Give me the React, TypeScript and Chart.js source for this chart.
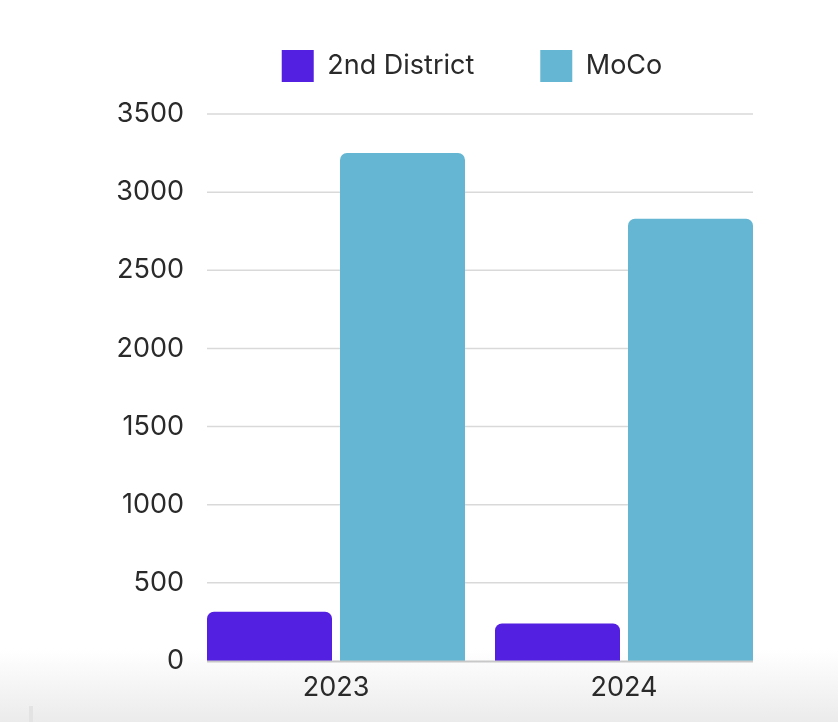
import React, { useEffect, useRef } from "react";
import { Chart, registerables } from "chart.js";

Chart.register(...registerables);

const categories = ["2023", "2024"];
const seriesNames = ["2nd District", "MoCo"];
const district2Values = [315, 240];
const mocoValues = [3250, 2830];
const yTickMin = 0;
const yTickMax = 3500;
const yTickStep = 500;

const PURPLE = "#531fe0";
const BLUE = "#65b6d3";
const FONT = "Inter, 'Noto Sans', sans-serif";

const legendTweak = {
  id: "legendTweak",
  beforeLayout(chart: any) {
    const legend = chart.legend;
    if (!legend || legend.__tweaked) return;
    legend.__tweaked = true;
    const origFit = legend.fit;
    legend.fit = function () {
      origFit.call(this);
      this.height = 106;
    };
    const origDraw = legend.draw;
    legend.draw = function (...args: any[]) {
      const ctx = this.ctx;
      ctx.save();
      ctx.translate(-8, -24);
      origDraw.apply(this, args);
      ctx.restore();
    };
  },
};

const insetGrid = {
  id: "insetGrid",
  beforeDatasetsDraw(chart: any) {
    const y = chart.scales.y;
    const first = chart.getDatasetMeta(0).data[0];
    const lastMeta = chart.getDatasetMeta(chart.data.datasets.length - 1);
    const last = lastMeta.data[lastMeta.data.length - 1];
    if (!first || !last) return;
    const left = first.x - first.width / 2;
    const right = last.x + last.width / 2;
    const ctx = chart.ctx;
    ctx.save();
    ctx.lineWidth = 1.5;
    y.ticks.forEach((t: any) => {
      if (t.value === 0) return;
      const py = y.getPixelForValue(t.value);
      ctx.strokeStyle = "#d9d9d9";
      ctx.beginPath();
      ctx.moveTo(left, py);
      ctx.lineTo(right, py);
      ctx.stroke();
    });
    ctx.restore();
  },
  afterDatasetsDraw(chart: any) {
    const y = chart.scales.y;
    const first = chart.getDatasetMeta(0).data[0];
    const lastMeta = chart.getDatasetMeta(chart.data.datasets.length - 1);
    const last = lastMeta.data[lastMeta.data.length - 1];
    if (!first || !last) return;
    const left = first.x - first.width / 2;
    const right = last.x + last.width / 2;
    const ctx = chart.ctx;
    const py = y.getPixelForValue(0);
    ctx.save();
    ctx.lineWidth = 2;
    ctx.strokeStyle = "#c8c8c8";
    ctx.beginPath();
    ctx.moveTo(left, py + 0.5);
    ctx.lineTo(right, py + 0.5);
    ctx.stroke();
    ctx.restore();
  },
};

export default function App() {
  const canvasRef = useRef<HTMLCanvasElement | null>(null);

  useEffect(() => {
    if (!canvasRef.current) return;
    const chart = new Chart(canvasRef.current, {
      type: "bar",
      data: {
        labels: categories,
        datasets: [
          {
            label: seriesNames[0],
            data: district2Values,
            backgroundColor: PURPLE,
            borderRadius: { topLeft: 7, topRight: 7, bottomLeft: 0, bottomRight: 0 },
            borderSkipped: false,
            categoryPercentage: 0.9236,
            barPercentage: 0.9398,
          },
          {
            label: seriesNames[1],
            data: mocoValues,
            backgroundColor: BLUE,
            borderRadius: { topLeft: 7, topRight: 7, bottomLeft: 0, bottomRight: 0 },
            borderSkipped: false,
            categoryPercentage: 0.9236,
            barPercentage: 0.9398,
          },
        ],
      },
      options: {
        responsive: false,
        animation: false,
        layout: { padding: { left: 0, right: 62, top: 0, bottom: 0 } },
        plugins: {
          legend: {
            position: "top",
            fullSize: false,
            labels: {
              boxWidth: 32,
              boxHeight: 32,
              padding: 66,
              color: "#2a2a2a",
              font: { family: FONT, size: 27 },
            },
          },
          tooltip: { enabled: false },
        },
        scales: {
          x: {
            grid: { display: false, drawTicks: false },
            border: { display: false },
            ticks: {
              color: "#2a2a2a",
              font: { family: FONT, size: 27 },
              padding: 11,
            },
            afterFit(scale: any) {
              scale.height = 61;
            },
          },
          y: {
            min: yTickMin,
            max: yTickMax,
            grid: { display: false, drawTicks: false },
            border: { display: false },
            ticks: {
              stepSize: yTickStep,
              color: "#2a2a2a",
              font: { family: FONT, size: 27 },
              padding: 8,
              callback: (v: any) => String(v),
            },
            afterFit(scale: any) {
              scale.width = 184;
            },
          },
        },
      },
      plugins: [legendTweak, insetGrid],
    } as any);
    return () => chart.destroy();
  }, []);

  return (
    <>
      <div
        style={{
          position: "fixed",
          left: 0,
          top: 0,
          width: "100vw",
          height: "100vh",
          background: "linear-gradient(to bottom, #ffffff 0px, #ffffff 650px, #ebebeb 722px)",
          zIndex: 0,
        }}
      />
      <div
        style={{
          position: "fixed",
          left: 29,
          top: 706,
          width: 4,
          height: 16,
          background: "#e3e3e3",
          zIndex: 0,
        }}
      />
      <div style={{ position: "relative", zIndex: 1, width: 822, height: 714 }}>
        <canvas ref={canvasRef} width={822} height={714} />
      </div>
    </>
  );
}
